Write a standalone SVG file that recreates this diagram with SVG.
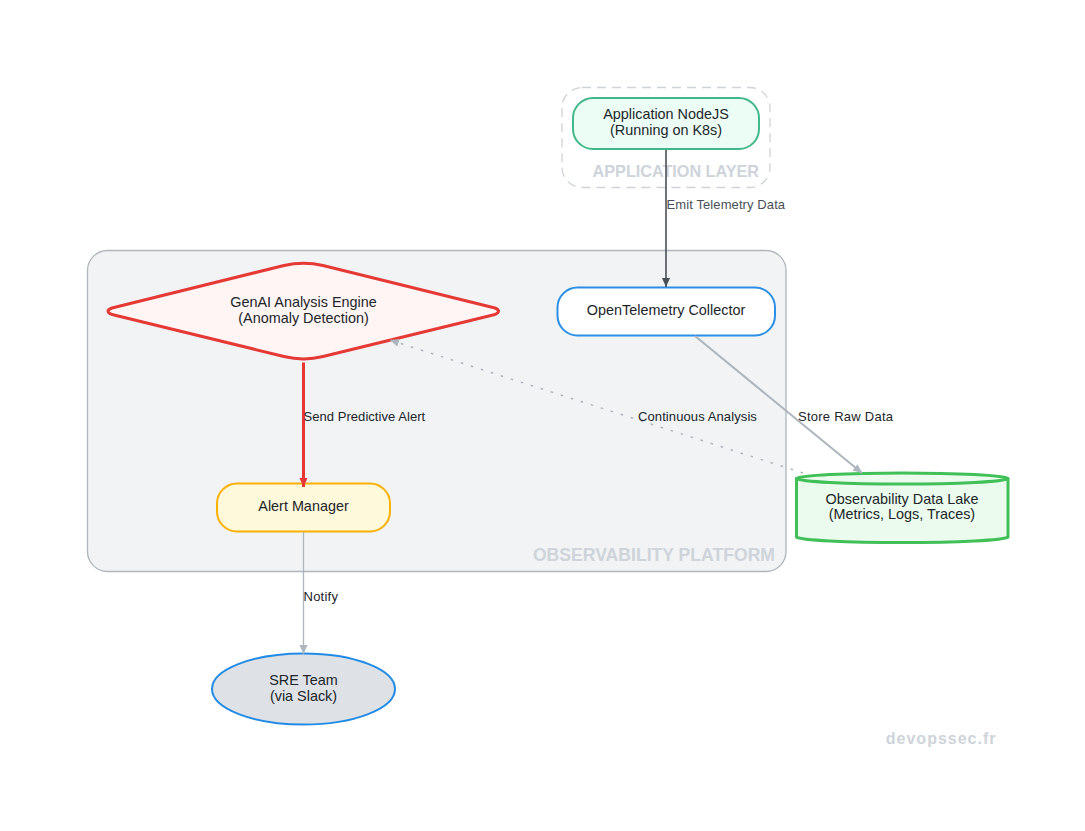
<svg xmlns="http://www.w3.org/2000/svg" width="1085" height="831" viewBox="0 0 1085 831">
<style>
text{font-family:"Liberation Sans",Arial,sans-serif;text-anchor:middle}
.n{font-size:14.400px;fill:#212529}
.l{font-size:13px;fill:#212529;text-anchor:start;letter-spacing:.1px}
.g{font-weight:bold;fill:#ced4da;text-anchor:end}
</style>
<defs>
<marker id="ag" markerUnits="userSpaceOnUse" markerWidth="11" markerHeight="10" refX="9" refY="4" orient="auto"><path d="M0 0L9 4L0 8z" fill="#adb5bd"/></marker>
<marker id="ad" markerUnits="userSpaceOnUse" markerWidth="11" markerHeight="10" refX="9" refY="4" orient="auto"><path d="M0 0L9 4L0 8z" fill="#495057"/></marker>
<marker id="ar" markerUnits="userSpaceOnUse" markerWidth="11" markerHeight="10" refX="9" refY="4" orient="auto"><path d="M0 0L9 4L0 8z" fill="#e53935"/></marker>
</defs>
<rect width="1085" height="831" fill="#fff"/>
<g id="group-app"><rect x="562" y="87.500" width="208" height="100" rx="20" fill="#fff" stroke="#ced4da" stroke-width="1.300" stroke-dasharray="9 6"/><text class="g" x="759" y="177" font-size="16.200">APPLICATION LAYER</text></g>
<g id="group-platform"><rect x="87.500" y="250.500" width="698.500" height="321" rx="20" fill="#f1f3f5" stroke="#adb5bd" stroke-width="1.300"/><text class="g" x="775" y="561" font-size="17.600">OBSERVABILITY PLATFORM</text></g>
<g id="app"><rect x="573" y="98" width="186" height="51" rx="20" fill="#ecfdf5" stroke="#40b88a" stroke-width="2"/><text class="n" x="666" y="119">Application NodeJS</text><text class="n" x="666" y="135">(Running on K8s)</text></g>
<g id="collector"><rect x="557.500" y="287.500" width="217.500" height="48" rx="20" fill="#fff" stroke="#2b8fe6" stroke-width="2"/><text class="n" x="666" y="315">OpenTelemetry Collector</text></g>
<g id="genai"><path d="M284 265.500C296 262.800 311 262.800 323 265.500L495 308Q502 311 495 314.500L323 356.500C311 359.500 296 359.500 284 356.500L112 314.500Q104 311 112 308Z" fill="#fff5f5" stroke="#e53935" stroke-width="3" stroke-linejoin="round"/><text class="n" x="303.500" y="307">GenAI Analysis Engine</text><text class="n" x="303.500" y="323">(Anomaly Detection)</text></g>
<g id="alert"><rect x="217" y="483.500" width="173" height="48" rx="20" fill="#fff9db" stroke="#fab005" stroke-width="2"/><text class="n" x="303.500" y="511">Alert Manager</text></g>
<g id="sre"><ellipse cx="303.500" cy="689" rx="91.500" ry="35.500" fill="#dee2e6" stroke="#228be6" stroke-width="2"/><text class="n" x="303.500" y="685">SRE Team</text><text class="n" x="303.500" y="701">(via Slack)</text></g>
<g id="lake"><path d="M796.500 478.500A106 6 0 0 1 1008 478.500V537A106 6 0 0 1 796.500 537Z" fill="#ebfbee" stroke="#40c057" stroke-width="3"/><path d="M796.500 478.500A106 6 0 0 0 1008 478.500" fill="none" stroke="#40c057" stroke-width="3"/><text class="n" x="902" y="504">Observability Data Lake</text><text class="n" x="902" y="519">(Metrics, Logs, Traces)</text></g>
<g id="connectors" fill="none">
<path d="M666 150V287" stroke="#495057" stroke-width="1.600" marker-end="url(#ad)"/>
<path d="M695 336L862 473" stroke="#adb5bd" stroke-width="2" marker-end="url(#ag)"/>
<path d="M803 473L390 340" stroke="#adb5bd" stroke-width="1.500" stroke-dasharray="2.500 8" marker-end="url(#ag)"/>
<path d="M303.500 362.500V487" stroke="#e53935" stroke-width="3" marker-end="url(#ar)"/>
<path d="M303.500 532V654" stroke="#adb5bd" stroke-width="1.300" marker-end="url(#ag)"/>
</g>
<g id="edge-labels">
<text class="l" x="666.500" y="208.500" style="fill:#495057;letter-spacing:.1px">Emit Telemetry Data</text>
<text class="l" x="798" y="420.500" style="letter-spacing:.25px">Store Raw Data</text>
<text class="l" x="638" y="420.500">Continuous Analysis</text>
<text class="l" x="303.500" y="420.500" style="letter-spacing:.05px">Send Predictive Alert</text>
<text class="l" x="303.500" y="600.500" style="letter-spacing:.25px">Notify</text>
</g>
<text x="996.500" y="744" style="text-anchor:end;font-size:16px;font-weight:bold;fill:#ced4da;letter-spacing:1px">devopssec.fr</text>
</svg>
